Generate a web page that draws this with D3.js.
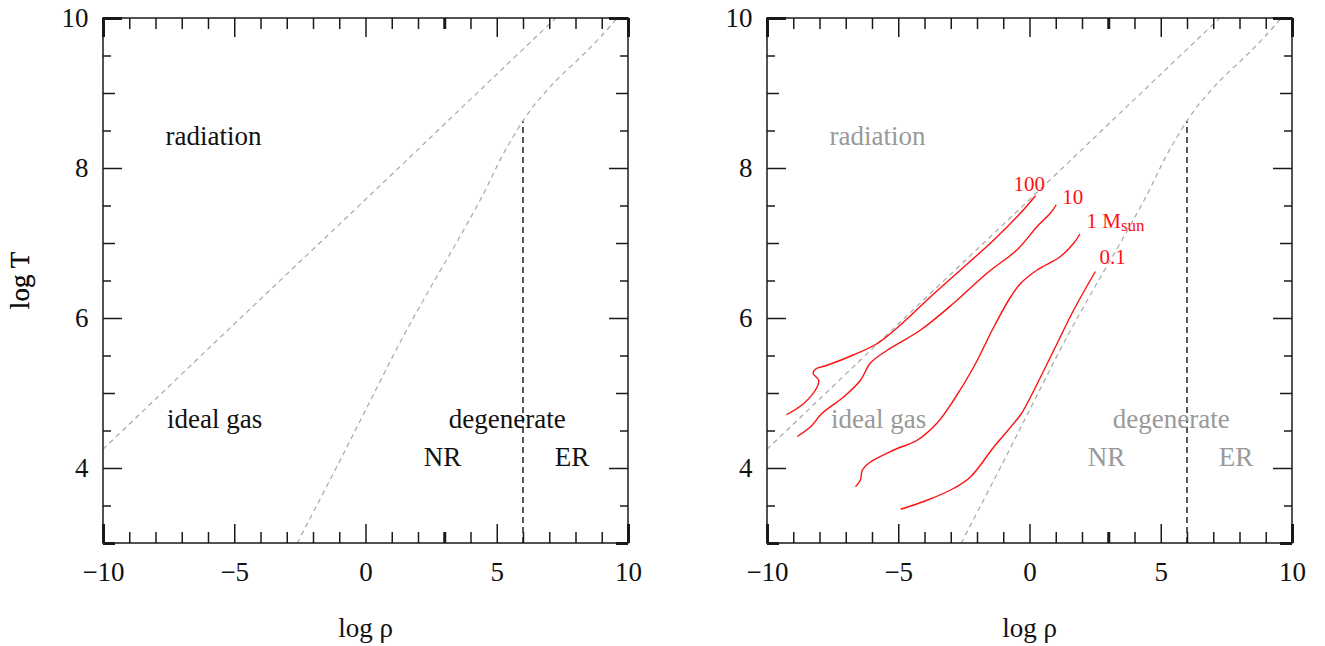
<!DOCTYPE html>
<html>
<head>
<meta charset="utf-8">
<script src="https://cdn.jsdelivr.net/npm/d3@7"></script>
<style>
  body { margin: 0; background: #fff; }
  svg { display: block; }
  text { font-family: "Liberation Serif", "Times New Roman", serif; }
</style>
</head>
<body>
<div id="chart"></div>
<script>
// tick values
var xMajor = [-10, -5, 0, 5, 10];
var xMinor = [-9, -8, -7, -6, -4, -3, -2, -1, 1, 2, 3, 4, 6, 7, 8, 9];
var yMajor = [4, 6, 8, 10];
var yMid = [3, 5, 7, 9];
var yMinor = [3.5, 4.5, 5.5, 6.5, 7.5, 8.5, 9.5];

// boundaries (log rho, log T)
var radiationLine = [[-10, 4.25], [-5, 5.92], [0, 7.58], [5, 9.25], [7.25, 10]];
var degeneracyLine = [[-2.6, 3.0], [-1, 4.08], [0, 4.77], [1.37, 5.71], [2.58, 6.47], [3.59, 7.08],
    [4.5, 7.66], [5.19, 8.15], [5.63, 8.42], [6.08, 8.67], [6.5, 8.87], [6.95, 9.05],
    [7.41, 9.22], [8.05, 9.43], [8.55, 9.6], [9.06, 9.79], [9.6, 10]];
var relativisticLine = [[6, 3], [6, 8.62]];

// central evolution tracks (right panel)
var track100 = [[-9.26, 4.71], [-8.6, 4.86], [-8.09, 5.08], [-8.03, 5.17], [-8.24, 5.26], [-8.15, 5.32],
    [-7.71, 5.37], [-6.69, 5.51], [-5.8, 5.66], [-4.91, 5.91], [-3.9, 6.24], [-2.63, 6.64],
    [-1.36, 7.04], [-0.34, 7.4], [0.23, 7.63]];
var track10 = [[-8.85, 4.42], [-8.34, 4.55], [-7.9, 4.73], [-7.07, 4.95], [-6.44, 5.17], [-6.06, 5.4],
    [-5.42, 5.57], [-4.15, 5.84], [-2.88, 6.2], [-1.61, 6.6], [-0.47, 6.91], [0.29, 7.22],
    [0.8, 7.4], [1.02, 7.51]];
var track1 = [[-6.63, 3.75], [-6.44, 3.84], [-6.37, 3.97], [-6.06, 4.08], [-5.17, 4.24], [-4.28, 4.37],
    [-3.52, 4.6], [-2.88, 4.91], [-2.12, 5.35], [-1.36, 5.88], [-0.72, 6.28], [-0.34, 6.46],
    [0.29, 6.64], [1.18, 6.82], [1.69, 7.0], [1.92, 7.12]];
var track01 = [[-4.91, 3.45], [-3.9, 3.57], [-2.88, 3.73], [-2.25, 3.88], [-1.36, 4.28], [-0.34, 4.71],
    [-0.09, 4.86], [0.8, 5.48], [1.69, 6.11], [2.51, 6.62]];

var regionLabels = [
    {text: "radiation", x: -5.79, y: 8.31},
    {text: "ideal gas", x: -5.75, y: 4.53},
    {text: "degenerate", x: 5.4, y: 4.54},
    {text: "NR", x: 2.93, y: 4.03},
    {text: "ER", x: 7.87, y: 4.03}
];
var trackLabels = [
    {text: "100", sub: "", x: -0.61, y: 7.7},
    {text: "10", sub: "", x: 1.25, y: 7.52},
    {text: "1 M", sub: "sun", x: 2.17, y: 7.2},
    {text: "0.1", sub: "", x: 2.67, y: 6.72}
];

var W = 525, H = 525;
var svg = d3.select("#chart").append("svg")
    .attr("width", 1325)
    .attr("height", 646);

var x = d3.scaleLinear().domain([-10, 10]).range([0, W]);
var y = d3.scaleLinear().domain([3, 10]).range([H, 0]);

var line = d3.line().x(d => x(d[0])).y(d => y(d[1]));
var smooth = d3.line().x(d => x(d[0])).y(d => y(d[1])).curve(d3.curveCatmullRom.alpha(0.5));
var track = d3.line().x(d => x(d[0])).y(d => y(d[1])).curve(d3.curveCatmullRom.alpha(0.5));

svg.append("defs").append("clipPath").attr("id", "plotclip")
    .append("rect").attr("width", W).attr("height", H);

function drawPanel(left, withTracks) {
    var g = svg.append("g").attr("transform", "translate(" + left + ",18)");
    var labelColor = withTracks ? "#999" : "#111";

    var plot = g.append("g").attr("clip-path", "url(#plotclip)");

    plot.append("path").datum(radiationLine)
        .attr("d", smooth)
        .attr("fill", "none").attr("stroke", "#a8a8a8")
        .attr("stroke-width", 1.2).attr("stroke-dasharray", "5,4");
    plot.append("path").datum(degeneracyLine)
        .attr("d", smooth)
        .attr("fill", "none").attr("stroke", "#a8a8a8")
        .attr("stroke-width", 1.2).attr("stroke-dasharray", "5,4");
    plot.append("path").datum(relativisticLine)
        .attr("d", line)
        .attr("fill", "none").attr("stroke", "#111")
        .attr("stroke-width", 1.4).attr("stroke-dasharray", "6,4");

    g.selectAll(".region")
        .data(regionLabels)
      .enter().append("text")
        .attr("class", "region")
        .attr("x", d => x(d.x))
        .attr("y", d => y(d.y))
        .attr("text-anchor", "middle")
        .style("font-size", "27px")
        .style("fill", labelColor)
        .text(d => d.text);

    if (withTracks) {
        plot.selectAll(".track")
            .data([track100, track10, track1, track01])
          .enter().append("path")
            .attr("class", "track")
            .attr("d", track)
            .attr("fill", "none")
            .attr("stroke", "#ff1010")
            .attr("stroke-width", 1.4);

        var tl = g.selectAll(".tlabel")
            .data(trackLabels)
          .enter().append("text")
            .attr("class", "tlabel")
            .attr("x", d => x(d.x))
            .attr("y", d => y(d.y))
            .style("font-size", "21px")
            .style("fill", "#ff1010")
            .text(d => d.text);
        tl.filter(d => d.sub).append("tspan")
            .attr("dy", 3)
            .style("font-size", "17px")
            .text(d => d.sub);
    }

    // axes: ticks point inward on all four sides
    function axis(a, values, size, labels, pad) {
        a.tickValues(values).tickSizeInner(-size).tickSizeOuter(0).tickPadding(pad || 0);
        a.tickFormat(labels ? d3.format("d") : "");
        return a;
    }
    var axes = [
        [d3.axisBottom(x), xMajor, 19, true, 18.5, "translate(0," + H + ")"],
        [d3.axisBottom(x), xMinor, 11, false, 0, "translate(0," + H + ")"],
        [d3.axisTop(x), xMajor, 19, false, 0, null],
        [d3.axisTop(x), xMinor, 11, false, 0, null],
        [d3.axisLeft(y), yMajor, 19, true, 14.5, null],
        [d3.axisLeft(y), yMid, 12, false, 0, null],
        [d3.axisLeft(y), yMinor, 8, false, 0, null],
        [d3.axisRight(y), yMajor, 19, false, 0, "translate(" + W + ",0)"],
        [d3.axisRight(y), yMid, 12, false, 0, "translate(" + W + ",0)"],
        [d3.axisRight(y), yMinor, 8, false, 0, "translate(" + W + ",0)"]
    ];
    axes.forEach(function(a) {
        var ag = g.append("g").call(axis(a[0], a[1], a[2], a[3], a[4]));
        if (a[5]) ag.attr("transform", a[5]);
        ag.select(".domain").remove();
        ag.selectAll("line").attr("stroke", "#1a1a1a").attr("stroke-width", 1.5);
        ag.selectAll("text")
            .style("font-family", "'Liberation Serif', 'Times New Roman', serif")
            .style("font-size", "27px")
            .attr("fill", "#111");
        // ends overlap the frame and look heavier
        ag.selectAll(".tick").filter(d => d === -10 || d === 10 || d === 3)
            .select("line").attr("stroke-width", 3);
    });

    g.append("rect")
        .attr("width", W).attr("height", H)
        .attr("fill", "none")
        .attr("stroke", "#1a1a1a")
        .attr("stroke-width", 1.5);

    g.append("text")
        .attr("transform", "translate(" + (28.5 - left) + "," + (H / 2) + ") rotate(-90)")
        .attr("text-anchor", "middle")
        .style("font-size", "27px")
        .style("fill", "#111")
        .text("log T");

    g.append("text")
        .attr("x", W / 2)
        .attr("y", 619)
        .attr("text-anchor", "middle")
        .style("font-size", "27px")
        .style("fill", "#111")
        .text("log ρ");
}

drawPanel(103, false);
drawPanel(767, true);
</script>
</body>
</html>
